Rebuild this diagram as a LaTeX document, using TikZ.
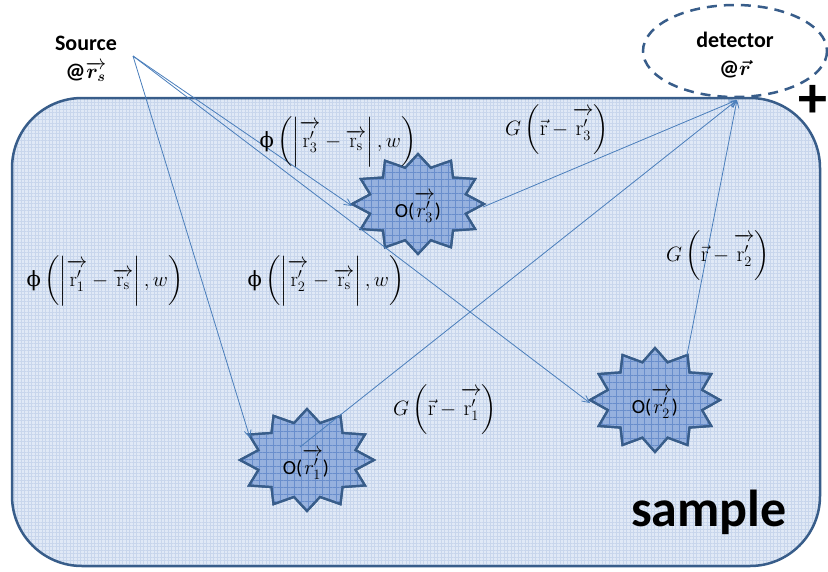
\documentclass[tikz,border=0pt]{standalone}
\usepackage{amsmath}
\usepackage{bm}
\usepackage{fontspec}
\newfontfamily\carl{Carlito}
\newfontfamily\dvs{DejaVu Serif}
\usetikzlibrary{arrows.meta,patterns.meta}
\definecolor{edgeblue}{RGB}{56,93,138}
\definecolor{lineblue}{RGB}{74,126,187}
\definecolor{samplefill}{RGB}{224,233,246}
\definecolor{samplegrid}{RGB}{200,214,236}
\definecolor{starfill}{RGB}{150,177,222}
\definecolor{stargrid}{RGB}{105,142,204}
\newcommand{\starpath}[4]{plot[samples=25,domain=0:24] ({#1+(1-0.25*mod(\x,2))*#3*cos(15*\x)},{#2+(1-0.25*mod(\x,2))*#4*sin(15*\x)}) -- cycle}
\newcommand{\uphi}{\text{\dvs\char"03D5}}
\newcommand{\tallr}{\rule{0pt}{0.9em}}
\tikzset{
  ray/.style={draw=lineblue, line width=0.8pt},
  rayarrow/.style={ray, -{Straight Barb[length=7pt,width=7pt,line width=0.8pt]}},
  starshape/.style={draw=edgeblue, line width=2.2pt, line join=miter, fill=starfill},
  boldlabel/.style={font=\carl\bfseries\fontsize{22}{25}\selectfont, align=center, inner sep=0pt},
  formula/.style={font=\fontsize{21}{25}\selectfont, inner sep=0pt},
  gformula/.style={font=\fontsize{22}{26}\selectfont, inner sep=0pt},
  starlabel/.style={font=\carl\fontsize{20}{24}\selectfont, inner sep=0pt},
}
\begin{document}
\begin{tikzpicture}[x=1pt,y=-1pt]
\useasboundingbox (0,0) rectangle (828,571);
% sample
\path[fill=samplefill] (12,98) [rounded corners=70pt] rectangle (820,566);
\path[pattern={Lines[distance=3.5pt,angle=0,line width=0.35pt]},pattern color=samplegrid] (12,98) [rounded corners=70pt] rectangle (820,566);
\path[pattern={Lines[distance=3.5pt,angle=90,line width=0.35pt]},pattern color=samplegrid] (12,98) [rounded corners=70pt] rectangle (820,566);
\draw[edgeblue, line width=2.5pt] (12,98) [rounded corners=70pt] rectangle (820,566);
\node[font=\carl\bfseries\fontsize{52}{58}\selectfont, inner sep=0pt] (sample) at (709,512) {sample};
% detector
\draw[edgeblue, line width=2.5pt, dash pattern=on 10pt off 7pt] (735,51) ellipse [x radius=92, y radius=46];
\node[boldlabel] (det) at (735,55) {detector\\[3pt]\textbf{@}$\bm{\vec{r}}$};
\node[font=\carl\bfseries\fontsize{58}{58}\selectfont, inner sep=0pt] (plus) at (813,101) {+};
% source
\node[boldlabel] (src) at (86,59) {Source\\[3pt]\textbf{@}$\overrightarrow{\bm{r}_{\bm{s}}}$};
% stars
\foreach \cx/\cy/\rx/\ry in {418/204/66/50, 307/460/67/51, 655/400/65/52}{
  \path[starshape] \starpath{\cx}{\cy}{\rx}{\ry};
  \path[pattern={Lines[distance=7pt,angle=0,line width=0.6pt]},pattern color=stargrid] \starpath{\cx}{\cy}{\rx}{\ry};
  \path[pattern={Lines[distance=7pt,angle=90,line width=0.6pt]},pattern color=stargrid] \starpath{\cx}{\cy}{\rx}{\ry};
  \draw[edgeblue, line width=2.2pt, line join=miter] \starpath{\cx}{\cy}{\rx}{\ry};
}
\node[starlabel] (o3) at (418,207) {O($\overrightarrow{\tallr r'_3}$)};
\node[starlabel] (o1) at (306,464) {O($\overrightarrow{\tallr r'_1}$)};
\node[starlabel] (o2) at (655,403) {O($\overrightarrow{\tallr r'_2}$)};
% points
\coordinate (s) at (133,56);
\coordinate (d) at (737,100);
\coordinate (o1in) at (250,438);
\coordinate (o3in) at (352,206);
\coordinate (o2in) at (590,403);
\coordinate (o3out) at (483,207);
\coordinate (o1out) at (300,447);
\coordinate (o2out) at (687,355);
% rays
\draw[rayarrow] (s) -- (o1in);
\draw[rayarrow] (s) -- (o3in);
\draw[rayarrow] (s) -- (o2in);
\draw[rayarrow] (o3out) -- (d);
\draw[rayarrow] (o1out) -- (d);
\draw[rayarrow] (o2out) -- (d);
% formulas
\node[formula] (f3) at (338,142) {$\uphi\left(\left|\overrightarrow{\tallr\mathrm{r}'_3}-\overrightarrow{\mathrm{r}_\mathrm{s}}\right|,w\right)$};
\node[formula] (f1) at (105,281) {$\uphi\left(\left|\overrightarrow{\tallr\mathrm{r}'_1}-\overrightarrow{\mathrm{r}_\mathrm{s}}\right|,w\right)$};
\node[formula] (f2) at (326,281) {$\uphi\left(\left|\overrightarrow{\tallr\mathrm{r}'_2}-\overrightarrow{\mathrm{r}_\mathrm{s}}\right|,w\right)$};
\node[gformula] (g3) at (557,130) {$G\left(\vec{\mathrm{r}}-\overrightarrow{\tallr\mathrm{r}'_3}\right)$};
\node[gformula] (g2) at (718,256) {$G\left(\vec{\mathrm{r}}-\overrightarrow{\tallr\mathrm{r}'_2}\right)$};
\node[gformula] (g1) at (445,410) {$G\left(\vec{\mathrm{r}}-\overrightarrow{\tallr\mathrm{r}'_1}\right)$};
\end{tikzpicture}
\end{document}
